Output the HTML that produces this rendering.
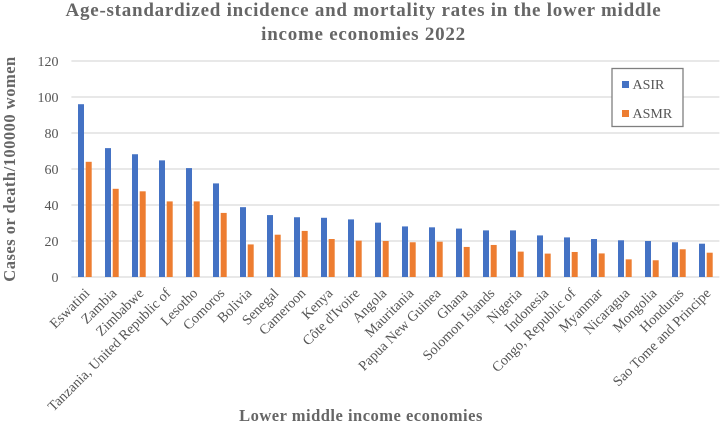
<!DOCTYPE html>
<html>
<head>
<meta charset="utf-8">
<style>
html,body{margin:0;padding:0;background:#fff;width:722px;height:424px;overflow:hidden}
svg{display:block;font-family:"Liberation Serif",serif;filter:blur(0.3px)}
</style>
</head>
<body>
<svg id="chart" width="722" height="424" viewBox="0 0 722 424" xmlns="http://www.w3.org/2000/svg">
<text x="363.5" y="16" text-anchor="middle" font-size="19" font-weight="bold" fill="#666" letter-spacing="0.75">Age-standardized incidence and mortality rates in the lower middle</text>
<text x="363.5" y="40" text-anchor="middle" font-size="19" font-weight="bold" fill="#666" letter-spacing="0.75">income economies 2022</text>
<text transform="translate(15,169) rotate(-90)" text-anchor="middle" font-size="16.5" font-weight="bold" fill="#666" letter-spacing="0.5">Cases or death/100000 women</text>
<text x="361" y="421" text-anchor="middle" font-size="16.5" font-weight="bold" fill="#666" letter-spacing="0.5">Lower middle income economies</text>
<g id="grid"></g>
<g id="bars"></g>
<g id="ylabels"></g>
<g id="xlabels"></g>
<g>
<rect x="612" y="68.5" width="71" height="58" fill="#fff" stroke="#7f7f7f" stroke-width="1.3"/>
<rect x="622" y="81" width="7" height="7" fill="#4472c4"/>
<text x="632.5" y="89" font-size="14" fill="#555">ASIR</text>
<rect x="622" y="110" width="7" height="7" fill="#ed7d31"/>
<text x="632.5" y="118" font-size="14" fill="#555">ASMR</text>
</g>
</svg>
<script>
var categories = ["Eswatini","Zambia","Zimbabwe","Tanzania, United Republic of","Lesotho","Comoros","Bolivia","Senegal","Cameroon","Kenya","Côte d'Ivoire","Angola","Mauritania","Papua New Guinea","Ghana","Solomon Islands","Nigeria","Indonesia","Congo, Republic of","Myanmar","Nicaragua","Mongolia","Honduras","Sao Tome and Principe"];
var asir = [96,71.6,68.2,64.8,60.5,52,38.8,34.4,33.2,32.9,32,30.2,28.1,27.6,26.9,25.9,25.9,23.1,22,21.1,20.4,20,19.3,18.5];
var asmr = [64,49,47.6,42,42,35.6,18.1,23.5,25.6,21.1,20.2,20,19.3,19.6,16.7,17.8,14.1,13,13.9,13.1,9.8,9.3,15.4,13.5];
var yTicks = [0,20,40,60,80,100,120];

var NS = "http://www.w3.org/2000/svg";
var plotLeft = 71.4, plotRight = 719.4, plotTop = 61, plotBottom = 277, yMax = 120;
var band = (plotRight - plotLeft) / categories.length;
function yScale(v){ return plotBottom - (v / yMax) * (plotBottom - plotTop); }
function xBand(i){ return plotLeft + band * i; }
function make(tag, attrs, parent){
  var el = document.createElementNS(NS, tag);
  for (var k in attrs) el.setAttribute(k, attrs[k]);
  parent.appendChild(el);
  return el;
}
var grid = document.getElementById("grid");
var ylabels = document.getElementById("ylabels");
var bars = document.getElementById("bars");
var xlabels = document.getElementById("xlabels");

yTicks.forEach(function(t){
  var line = make("line", {x1: plotLeft, x2: plotRight, y1: yScale(t), y2: yScale(t), stroke: "#d9d9d9", "stroke-width": 1.2}, grid);
  
  
  var lab = make("text", {x: 58.5, y: yScale(t) + 5, "text-anchor": "end", "font-size": 14, fill: "#555"}, ylabels);
  
  
  lab.textContent = t;
});

categories.forEach(function(c, i){
  var x0 = xBand(i);
  var b1 = make("rect", {x: x0 + 6.6, y: yScale(asir[i]), width: 6, height: yScale(0) - yScale(asir[i]), fill: "#4472c4"}, bars);
  
  
  var b2 = make("rect", {x: x0 + 14.3, y: yScale(asmr[i]), width: 6, height: yScale(0) - yScale(asmr[i]), fill: "#ed7d31"}, bars);
  
  
  var cx = x0 + band / 2 + 5.5;
  var lab = make("text", {transform: "translate(" + cx + ",294) rotate(-45)", "text-anchor": "end", "font-size": 14.2, fill: "#555"}, xlabels);
  
  
  lab.textContent = c;
});
</script>
</body>
</html>
